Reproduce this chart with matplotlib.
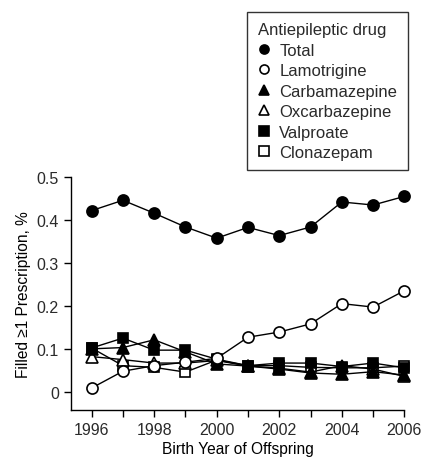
import matplotlib
matplotlib.use("Agg")
import matplotlib.pyplot as plt
from matplotlib.lines import Line2D

plt.rcParams['font.family'] = ['Liberation Sans', 'DejaVu Sans']
plt.rcParams['text.color'] = '#2a2a2a'

years = list(range(1996, 2007))
total = [0.422, 0.446, 0.416, 0.384, 0.358, 0.383, 0.364, 0.384, 0.442, 0.435, 0.455]
lamotrigine = [0.010, 0.049, 0.062, 0.070, 0.079, 0.128, 0.140, 0.159, 0.206, 0.198, 0.236]
carbamazepine = [0.101, 0.104, 0.122, 0.094, 0.066, 0.061, 0.054, 0.045, 0.042, 0.048, 0.040]
oxcarbazepine = [0.083, 0.076, 0.068, 0.068, 0.074, 0.061, 0.056, 0.047, 0.062, 0.054, 0.037]
valproate = [0.103, 0.126, 0.098, 0.098, 0.077, 0.062, 0.068, 0.068, 0.060, 0.068, 0.057]
clonazepam = [0.103, 0.062, 0.058, 0.047, 0.075, 0.062, 0.062, 0.058, 0.057, 0.057, 0.061]

labels = ["Total", "Lamotrigine", "Carbamazepine", "Oxcarbazepine", "Valproate", "Clonazepam"]
yticks = [0, 0.1, 0.2, 0.3, 0.4, 0.5]
ytick_labels = ["0", "0.1", "0.2", "0.3", "0.4", "0.5"]

fig = plt.figure(figsize=(4.23, 4.60), dpi=100)
ax = fig.add_axes([0.167, 0.1065, 0.956 - 0.167, 0.613 - 0.1065])

series = [total, lamotrigine, carbamazepine, oxcarbazepine, valproate, clonazepam]
markers = ['o', 'o', '^', '^', 's', 's']
filled = [True, False, True, False, True, False]
sizes = [8, 8, 8, 8, 7.5, 7.5]
order = [1, 5, 3, 2, 4, 0]
handles = []
for i in range(len(series)):
    fc = 'black' if filled[i] else 'white'
    ax.plot(years, series[i], color='black', lw=1.0, marker=markers[i], ms=sizes[i],
            mfc=fc, mec='black', mew=1.2, clip_on=False, zorder=3 + order[i])
    handles.append(Line2D([], [], ls='none', marker=markers[i], ms=6.5, mfc=fc,
                          mec='black', mew=1.2))

ax.set_xlim(1995.33, 2006)
ax.set_ylim(-0.041, 0.5)
ax.set_yticks(yticks)
ax.set_yticklabels(ytick_labels)
ax.set_xticks(years)
ax.set_xticklabels([str(y) if y % 2 == 0 else "" for y in years])
ax.spines['top'].set_visible(False)
ax.spines['right'].set_visible(False)
for s in ['left', 'bottom']:
    ax.spines[s].set_linewidth(1.0)
ax.tick_params(direction='out', length=5, width=1.0, labelsize=11.5, colors='black',
               labelcolor='#2a2a2a')
ax.set_xlabel("Birth Year of Offspring", fontsize=11.2, labelpad=3)
ax.set_ylabel("Filled \u22651 Prescription, %", fontsize=11.2)

leg = fig.legend(handles, labels, title="Antiepileptic drug", loc='upper left',
                 bbox_to_anchor=(247.3 / 423, 1 - 12.7 / 460), fontsize=12,
                 title_fontsize=12, frameon=True, fancybox=False, borderpad=0.62,
                 handlelength=0.8, handletextpad=0.5, labelspacing=0.33,
                 borderaxespad=0)
leg._legend_box.align = "left"
leg.get_frame().set_edgecolor('black')
leg.get_frame().set_linewidth(1.0)

fig.savefig("out.png", dpi=100)
